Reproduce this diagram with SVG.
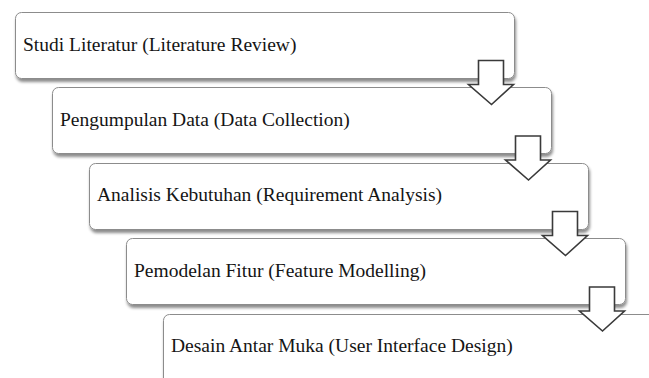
<svg xmlns="http://www.w3.org/2000/svg" width="649" height="378" viewBox="0 0 649 378">
  <style>
    .box { fill: #ffffff; stroke: #8c8c8c; stroke-width: 1; filter: url(#shadow); }
    .label { font-family: "Liberation Serif", "Times New Roman", serif; font-size: 19.5px; fill: #151515; }
    .arrow { fill: #ffffff; stroke: #3a3a3a; stroke-width: 1.6; stroke-linejoin: miter; }
  </style>
  <defs>
    <filter id="shadow" x="-5%" y="-20%" width="110%" height="150%">
      <feDropShadow dx="1" dy="3" stdDeviation="1.6" flood-color="#000000" flood-opacity="0.45"/>
    </filter>
    <!-- block arrow pointing down; origin at top-left of the shaft -->
    <path id="down" d="M0,0 H25 V24 H35 L13,44 L-10,24 H0 Z"/>
  </defs>
  <rect width="649" height="378" fill="#ffffff"/>

  <g id="step-1">
    <rect class="box" x="15.5" y="12.5" width="499" height="66" rx="6"/>
    <text class="label" x="23" y="51">Studi Literatur (Literature Review)</text>
  </g>
  <g id="step-2">
    <rect class="box" x="52.5" y="87.5" width="499" height="66" rx="6"/>
    <text class="label" x="60" y="126">Pengumpulan Data (Data Collection)</text>
  </g>
  <g id="step-3">
    <rect class="box" x="89.5" y="163.5" width="499" height="66" rx="6"/>
    <text class="label" x="97" y="201">Analisis Kebutuhan (Requirement Analysis)</text>
  </g>
  <g id="step-4">
    <rect class="box" x="126.5" y="238.5" width="499" height="66" rx="6"/>
    <text class="label" x="134" y="277">Pemodelan Fitur (Feature Modelling)</text>
  </g>
  <g id="step-5">
    <rect class="box" x="163.5" y="314.5" width="499" height="70" rx="6"/>
    <text class="label" x="171" y="352">Desain Antar Muka (User Interface Design)</text>
  </g>

  <g id="connectors">
    <use href="#down" class="arrow" x="478.5" y="60.5"/>
    <use href="#down" class="arrow" x="515.5" y="136"/>
    <use href="#down" class="arrow" x="552.5" y="211.5"/>
    <use href="#down" class="arrow" x="589.5" y="287"/>
  </g>
</svg>
